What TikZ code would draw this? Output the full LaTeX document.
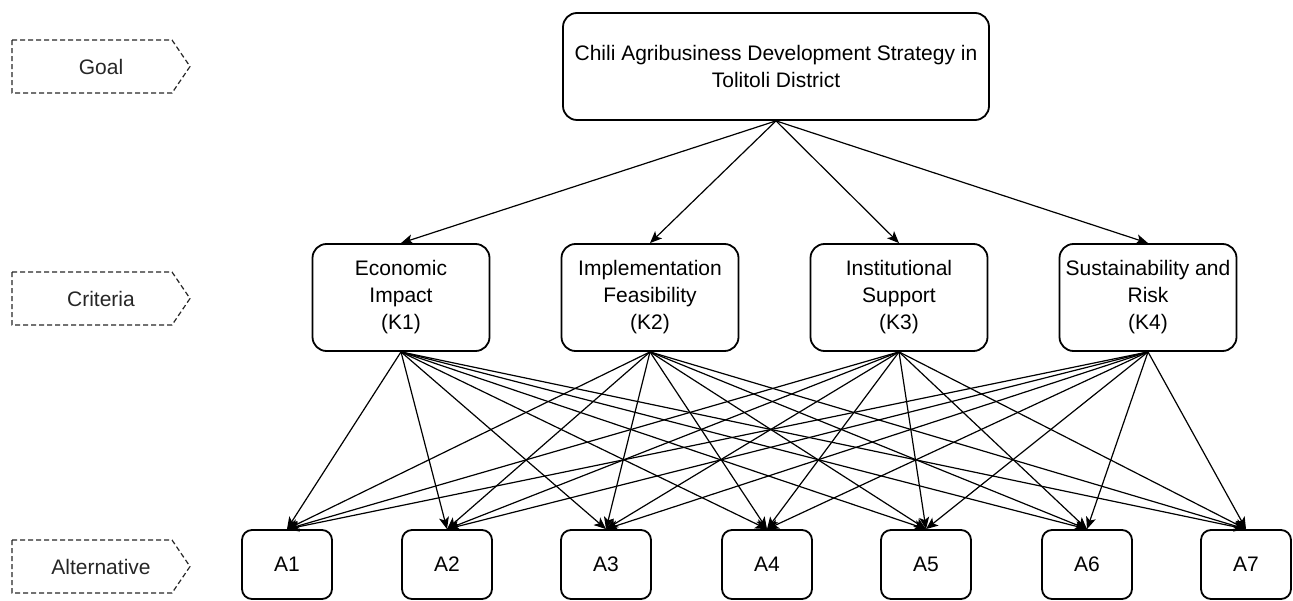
\documentclass[tikz,border=0pt]{standalone}
\usepackage{fontspec}
\setmainfont{Liberation Sans}
\usetikzlibrary{arrows.meta}
\begin{document}
\begin{tikzpicture}[x=1pt,y=-1pt,
  box/.style={draw=black, line width=1.8pt, rounded corners=14pt, align=center, inner sep=0pt,
    font=\fontsize{21}{27}\selectfont},
  critbox/.style={box, minimum width=177pt, minimum height=107pt},
  altbox/.style={box, rounded corners=10pt, minimum width=90pt, minimum height=69pt},
  edge/.style={line width=1.2pt, -{Stealth[length=12pt,width=10pt,inset=3pt]}},
  lvl/.style={draw=black!85, line width=1.2pt, dash pattern=on 5pt off 3pt},
  lvltext/.style={font=\fontsize{21}{25}\selectfont, text=black!85, inner sep=0pt}
]
\useasboundingbox (0,0) rectangle (1293,601);

% level labels
\draw[lvl] (12,40) -- (172,40) -- (190,66.5) -- (172,93) -- (12,93) -- cycle;
\node[lvltext] (LG) at (101,66.5) {Goal};
\draw[lvl] (12,272) -- (172,272) -- (190,298.5) -- (172,325) -- (12,325) -- cycle;
\node[lvltext] (LC) at (101,298.5) {Criteria};
\draw[lvl] (12,540) -- (172,540) -- (190,566.5) -- (172,593) -- (12,593) -- cycle;
\node[lvltext] (LA) at (101,566.5) {Alternative};

% goal
\node[box, minimum width=426pt, minimum height=107pt] (G) at (776,66.5)
  {Chili Agribusiness Development Strategy in\\Tolitoli District};

% criteria
\node[critbox] (K1) at (401,297.5) {Economic\\Impact\\(K1)};
\node[critbox] (K2) at (650,297.5) {Implementation\\Feasibility\\(K2)};
\node[critbox] (K3) at (899,297.5) {Institutional\\Support\\(K3)};
\node[critbox] (K4) at (1148,297.5) {Sustainability and\\Risk\\(K4)};

% alternatives
\foreach \i/\x in {1/287,2/447,3/606,4/767,5/926,6/1087,7/1246}{
  \node[altbox] (A\i) at (\x,564.5) {A\i};
}

% edges goal -> criteria
\foreach \k in {K1,K2,K3,K4}{
  \draw[edge] (G.south) -- (\k.north);
}
% edges criteria -> alternatives
\foreach \k in {K1,K2,K3,K4}{
  \foreach \a in {A1,A2,A3,A4,A5,A6,A7}{
    \draw[edge] (\k.south) -- (\a.north);
  }
}
\end{tikzpicture}
\end{document}
